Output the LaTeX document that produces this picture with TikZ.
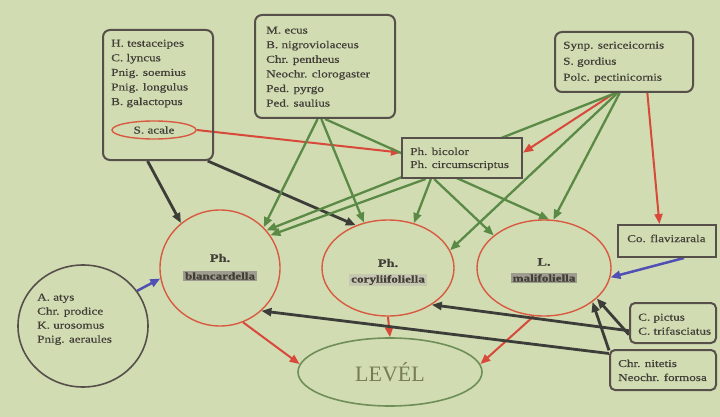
\documentclass[tikz,border=0pt]{standalone}
\usepackage{fontspec}
\setmainfont[FakeStretch=1.25,FakeBold=0.5]{Liberation Serif}
\newfontfamily\levfont{Liberation Serif}
\usetikzlibrary{arrows.meta,shapes.geometric}
\definecolor{bgc}{HTML}{D1DCB3}
\definecolor{boxc}{HTML}{57504A}
\definecolor{txtc}{HTML}{423E37}
\definecolor{blk}{HTML}{3C3C38}
\definecolor{grn}{HTML}{5A8A46}
\definecolor{redc}{HTML}{D8493A}
\definecolor{ellc}{HTML}{D85A40}
\definecolor{blu}{HTML}{5050B4}
\definecolor{levc}{HTML}{6F8F57}
\definecolor{levt}{HTML}{767C55}
\definecolor{hlA}{HTML}{9E9C8E}
\definecolor{hlB}{HTML}{C6C8B2}
\pgfdeclarelayer{back}
\pgfdeclarelayer{lines}
\pgfsetlayers{back,lines,main}
\begin{document}
\begin{tikzpicture}[x=1pt,y=-1pt,
  txt/.style={font=\fontsize{10.5}{14.6}\selectfont, align=left, inner sep=0pt, text=txtc, anchor=north west},
  rbox/.style={draw=boxc, line width=2pt, rounded corners=7pt, inner sep=0pt},
  sbox/.style={draw=boxc, line width=2pt, inner sep=0pt, fill=bgc},
  rell/.style={ellipse, draw=ellc, line width=1.4pt, inner sep=0pt},
  ar/.style={-{Triangle[length=10pt,width=8pt]}},
  ablk/.style={ar, draw=blk, fill=blk, line width=2.8pt},
  agrn/.style={ar, draw=grn, fill=grn, line width=2.3pt},
  ared/.style={ar, draw=redc, fill=redc, line width=2pt},
  ablu/.style={ar, draw=blu, fill=blu, line width=2.5pt},
  phlbl/.style={font=\bfseries\fontsize{11.5}{13}\selectfont, text=txtc, inner sep=0pt},
  nmlbl/.style={font=\bfseries\fontsize{10.5}{12}\selectfont, text=txtc, inner xsep=2pt, inner ysep=1.5pt}
]
\useasboundingbox (0,0) rectangle (720,417);
\begin{pgfonlayer}{back}
\fill[bgc] (0,0) rectangle (720,417);
\end{pgfonlayer}

% boxes
\node[rbox, minimum width=110pt, minimum height=130pt] (box1) at (158,95) {};
\node[txt] (t1) at (111,39.5) {H. testaceipes\\C. lyncus\\Pnig. soemius\\Pnig. longulus\\B. galactopus};
\node[rell, minimum width=84pt, minimum height=18pt] (acale) at (154,130) {};
\node[font=\fontsize{10.5}{12}\selectfont, text=txtc, inner sep=0pt] (tac) at (154,130) {S. acale};

\node[rbox, minimum width=140pt, minimum height=103pt] (box2) at (325,66.5) {};
\node[txt] (t2) at (266,26.5) {M. ecus\\B. nigroviolaceus\\Chr. pentheus\\Neochr. clorogaster\\Ped. pyrgo\\Ped. saulius};

\node[rbox, minimum width=138pt, minimum height=60pt] (box3) at (624,62) {};
\node[txt, font=\fontsize{10.5}{16}\selectfont] (t3) at (563,41.5) {Synp. sericeicornis\\S. gordius\\Polc. pectinicornis};

\node[sbox, minimum width=120pt, minimum height=40pt] (bic) at (462,158) {};
\node[txt, font=\fontsize{10.5}{13}\selectfont] (tb) at (410,147.5) {Ph. bicolor\\Ph. circumscriptus};

\node[sbox, minimum width=98pt, minimum height=32pt] (cof) at (667,241) {};
\node[txt] (tc) at (627,234.5) {Co. flavizarala};

\node[rbox, rounded corners=5pt, minimum width=86pt, minimum height=40pt] (pict) at (673,323) {};
\node[txt, font=\fontsize{10.5}{14}\selectfont] (tp) at (638,313.5) {C. pictus\\C. trifasciatus};

\node[rbox, rounded corners=5pt, minimum width=106pt, minimum height=40pt] (nit) at (663,370) {};
\node[txt, font=\fontsize{10.5}{14}\selectfont] (tn) at (618,359.5) {Chr. nitetis\\Neochr. formosa};

\node[ellipse, draw=boxc, line width=1.6pt, inner sep=0pt, minimum width=130pt, minimum height=122pt] (atys) at (83,326) {};
\node[txt, font=\fontsize{10.5}{14}\selectfont] (ta) at (37,293.5) {A. atys\\Chr. prodice\\K. urosomus\\Pnig. aeraules};

% host ellipses
\node[rell, minimum width=120pt, minimum height=116pt] (blanc) at (220,268) {};
\node[phlbl] (blph) at (220,258) {Ph.};
\node[nmlbl, fill=hlA] (blnm) at (220,276) {blancardella};

\node[rell, minimum width=132pt, minimum height=96pt] (cory) at (388,268) {};
\node[phlbl] (coph) at (388,263) {Ph.};
\node[nmlbl, fill=hlB] (conm) at (388,280) {coryliifoliella};

\node[rell, minimum width=134pt, minimum height=96pt] (mali) at (544,268) {};
\node[phlbl] (maph) at (544,262) {L.};
\node[nmlbl, fill=hlA] (manm) at (544,278) {malifoliella};

\node[ellipse, draw=levc, line width=1.6pt, inner sep=0pt, minimum width=184pt, minimum height=68pt] (level) at (390,372) {};
\node[font=\levfont\fontsize{22}{24}\selectfont, text=levt, inner sep=0pt] (lvt) at (390,372) {LEVÉL};

\begin{pgfonlayer}{lines}
\draw[ablk] (box1.261) -- (blanc.131);
\draw[ablk] (box1.307) -- (cory.127);
\draw[ared] (acale.east) -- (bic.175);
\draw[agrn] (box2.262) -- (blanc.43);
\draw[agrn] (box2.266) -- (cory.118);
\draw[agrn] (box2.270) -- (mali.84);
\draw[ared] (box3.253) -- (bic.5);
\draw[agrn] (box3.255) -- (blanc.39);
\draw[agrn] (box3.258) -- (cory.16);
\draw[agrn] (box3.262) -- (mali.79);
\draw[ared] (box3.307) -- (cof.114);
\draw[agrn] (bic.210) -- (blanc.33);
\draw[agrn] (bic.214) -- (cory.60);
\draw[agrn] (bic.217) -- (mali.147);
\draw[ablu] (cof.315) -- (mali.352);
\draw[ablu] (atys.33) -- (blanc.190);
\draw[ared] (blanc.293) -- (level.175);
\draw[ared] (cory.south) -- (level.north);
\draw[ared] (mali.258) -- (level.5);
\draw[ablk] (pict.195) -- (mali.330);
\draw[ablk] (pict.190) -- (cory.320);
\draw[ablk] (nit.160) -- (mali.325);
\draw[ablk] (nit.163) -- (blanc.314);
\end{pgfonlayer}
\end{tikzpicture}
\end{document}
